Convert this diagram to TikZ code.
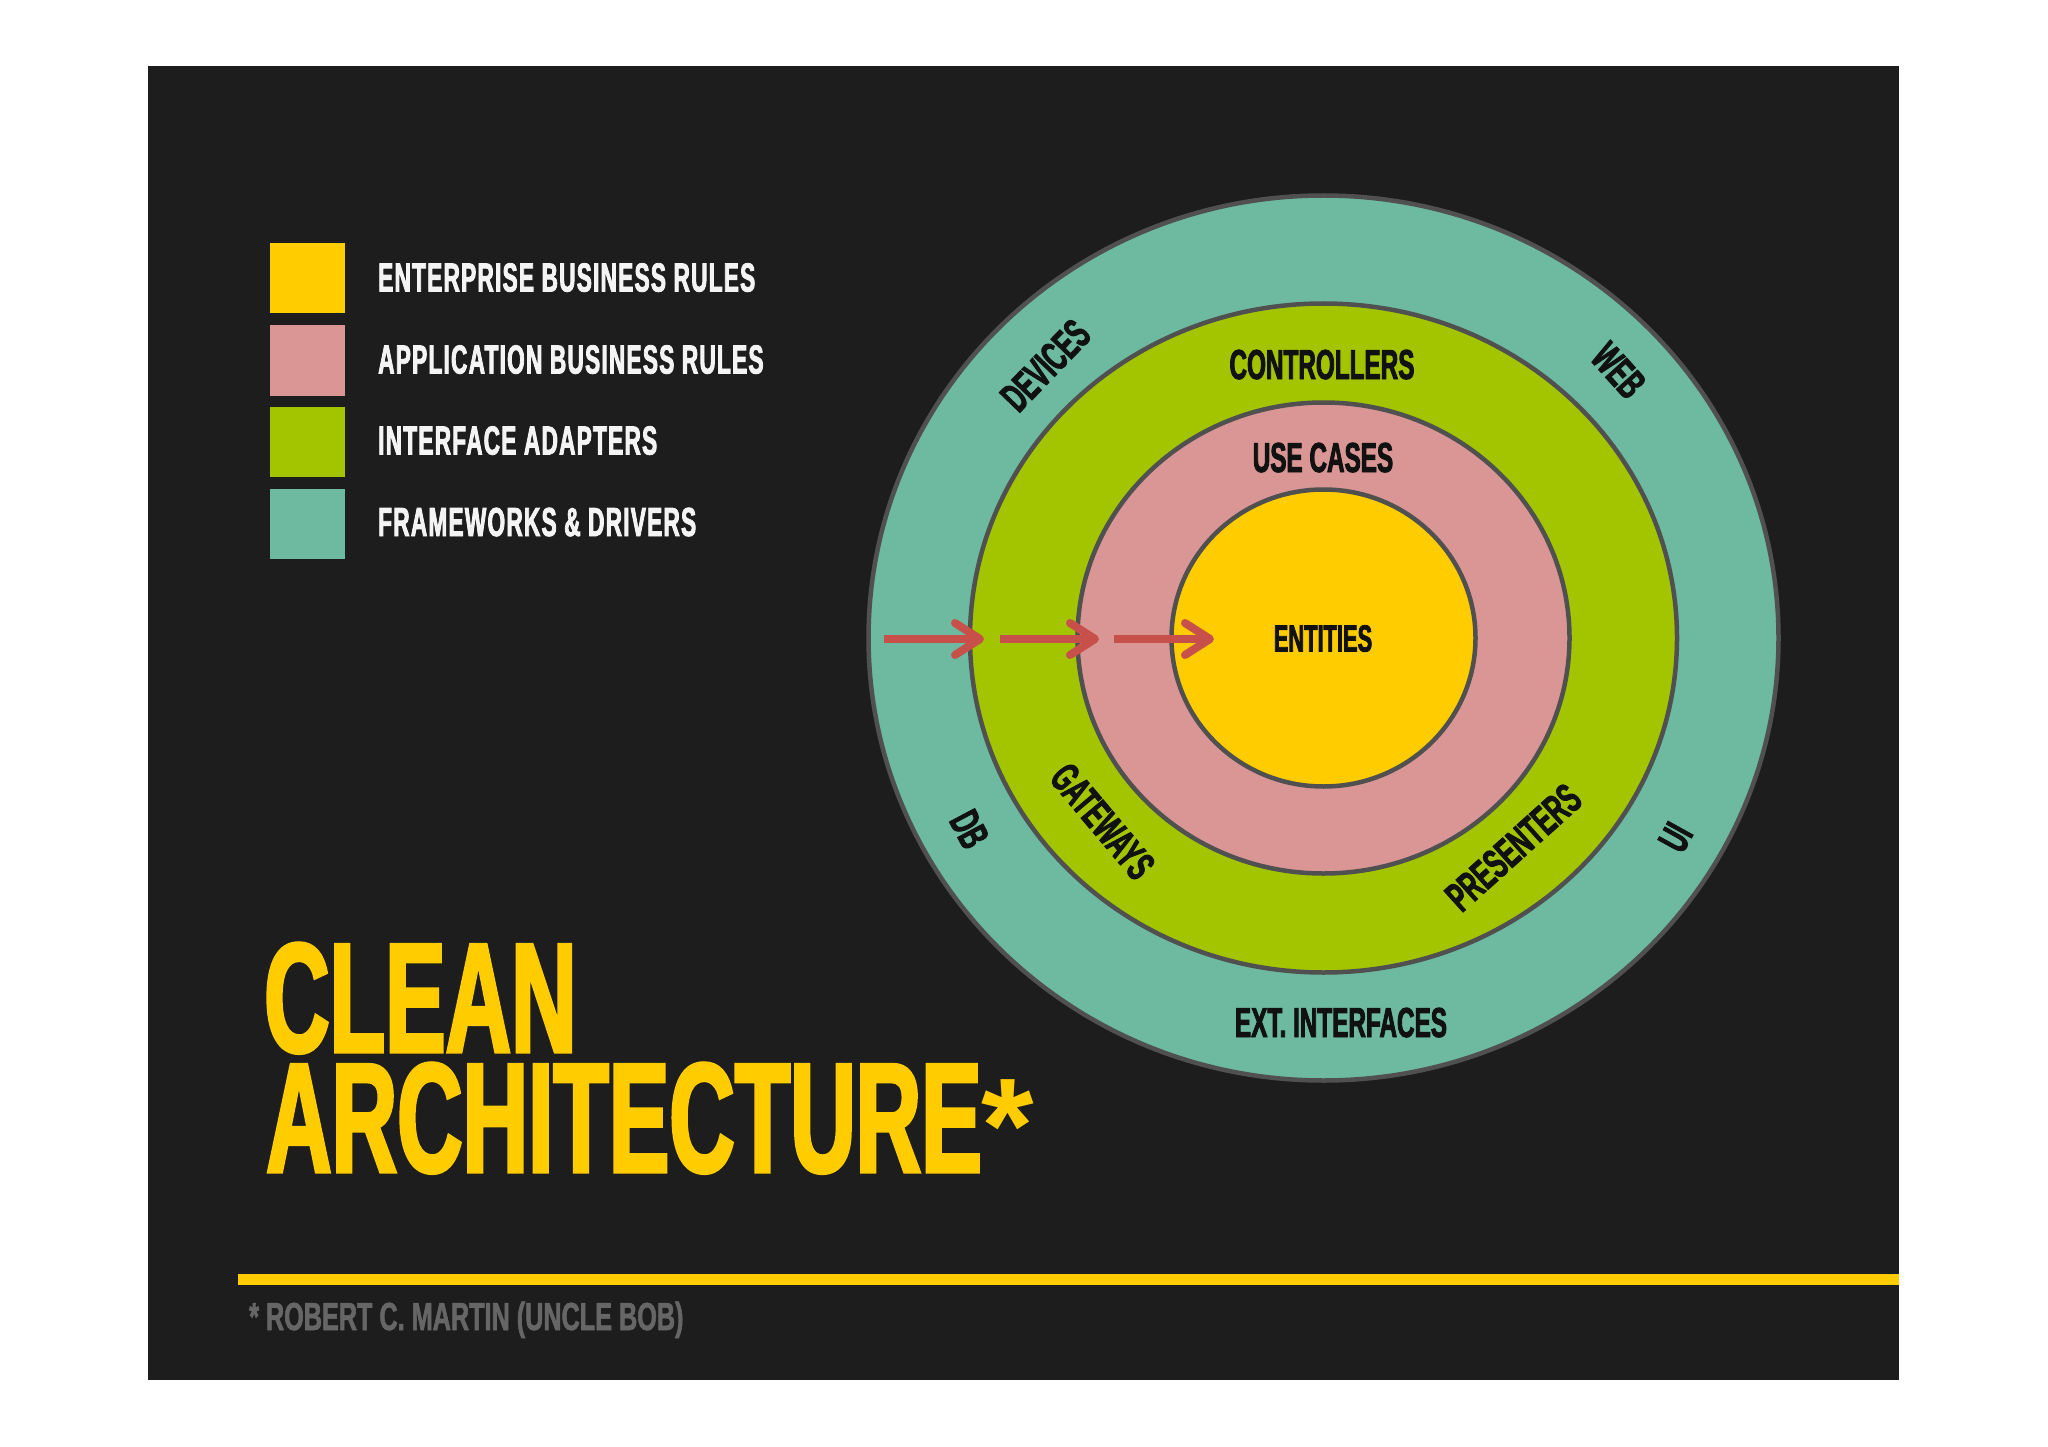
\documentclass[tikz,border=0pt]{standalone}
\usepackage{fontspec}
\usetikzlibrary{arrows.meta}
\newfontfamily\bb[FakeStretch=0.58,FakeBold=2]{Liberation Sans}
\newfontfamily\bbL[FakeStretch=0.56,FakeBold=2,LetterSpace=3]{Liberation Sans}
\newfontfamily\bbF[FakeStretch=0.645,FakeBold=1.5]{Liberation Sans}
\newfontfamily\bbW{Liberation Sans}
\definecolor{bgdark}{HTML}{1D1D1D}
\definecolor{yel}{HTML}{FFCC00}
\definecolor{pinkc}{HTML}{D99694}
\definecolor{greenc}{HTML}{A2C500}
\definecolor{tealc}{HTML}{6DBAA1}
\definecolor{ringline}{HTML}{505050}
\definecolor{arrowc}{HTML}{C8504B}
\definecolor{footc}{HTML}{666666}
\definecolor{legtext}{HTML}{F4F4F4}
\definecolor{labc}{HTML}{111111}
\tikzset{
  swatch/.style={draw=none, inner sep=0pt, minimum width=75pt, minimum height=70pt},
  legend/.style={font=\bbL\bfseries\fontsize{40.5}{41}\selectfont, text=legtext, inner sep=0pt, text height=29pt, text depth=0pt, anchor=west},
  lbl/.style={font=\bb\bfseries\fontsize{41.9}{42}\selectfont, text=labc, inner sep=0pt, text height=30pt, text depth=0pt},
  lblsmall/.style={font=\bb\bfseries\fontsize{37.7}{38}\selectfont, text=labc, inner sep=0pt, text height=27pt, text depth=0pt},
  ring/.style={draw=ringline, line width=4.5pt},
  arr/.style={draw=arrowc, line width=8pt, -{Straight Barb[length=25pt,width=32pt,round]}},
  titletext/.style={font=\bb\bfseries\fontsize{156.4}{157}\selectfont, text=yel, inner sep=0pt, anchor=base west},
  foot/.style={font=\bbF\bfseries\fontsize{39.1}{40}\selectfont, text=footc, inner sep=0pt, text height=28pt, text depth=0pt, anchor=west}
}
\begin{document}
\begin{tikzpicture}[x=1pt,y=-1pt]
\useasboundingbox (0,0) rectangle (2048,1447);
\fill[white] (0,0) rectangle (2048,1447);
\fill[bgdark] (148,66) rectangle (1899,1380);

% legend
\node[swatch, fill=yel]    (sw1) at (307.5,278) {};
\node[swatch, fill=pinkc]  (sw2) at (307.5,360.5) {};
\node[swatch, fill=greenc] (sw3) at (307.5,441.5) {};
\node[swatch, fill=tealc]  (sw4) at (307.5,523.5) {};
\node[legend] (lg1) at (378,277) {ENTERPRISE BUSINESS RULES};
\node[legend] (lg2) at (378,359) {APPLICATION BUSINESS RULES};
\node[legend] (lg3) at (378,440) {INTERFACE ADAPTERS};
\node[legend] (lg4) at (378,521.5) {FRAMEWORKS \& DRIVERS};

% rings
\coordinate (c) at (1323.5,638);
\filldraw[ring, fill=tealc]  (c) ellipse [x radius=455, y radius=442.5];
\filldraw[ring, fill=greenc] (c) ellipse [x radius=353.5, y radius=334.5];
\filldraw[ring, fill=pinkc]  (c) ellipse [x radius=246, y radius=235.5];
\filldraw[ring, fill=yel]    (c) ellipse [x radius=152, y radius=148.5];

% ring labels
\node[lbl] (controllers) at (1322,364) {CONTROLLERS};
\node[lbl] (usecases) at (1323,457) {USE CASES};
\node[lblsmall] (entities) at (1323,638) {ENTITIES};
\node[lbl] (ext) at (1341,1022) {EXT. INTERFACES};
\node[lbl, rotate=46] (devices) at (1045,365) {DEVICES};
\node[lbl, rotate=-48] (web) at (1619,370) {WEB};
\node[lbl, rotate=-62] (db) at (970,829) {DB};
\node[lbl, rotate=61] (ui) at (1675,837) {UI};
\node[lbl, rotate=-50] (gateways) at (1103,821) {GATEWAYS};
\node[lbl, rotate=42] (presenters) at (1513,847) {PRESENTERS};

% arrows
\coordinate (a1s) at (884,639);
\coordinate (a1e) at (984,639);
\coordinate (a2s) at (1000,639);
\coordinate (a2e) at (1099,639);
\coordinate (a3s) at (1114,639);
\coordinate (a3e) at (1214,639);
\draw[arr] (a1s) -- (a1e);
\draw[arr] (a2s) -- (a2e);
\draw[arr] (a3s) -- (a3e);

% title
\node[titletext] (t1) at (264,1052) {CLEAN};
\node[titletext] (t2) at (266,1172) {ARCHITECTURE{\bbW\bfseries\fontsize{135}{135}\selectfont *}};

% footer
\coordinate (fl1) at (238,1279.5);
\coordinate (fl2) at (1899,1279.5);
\draw[yel, line width=11pt] (fl1) -- (fl2);
\node[foot] (ft) at (249,1316) {* ROBERT C. MARTIN (UNCLE BOB)};
\end{tikzpicture}
\end{document}
